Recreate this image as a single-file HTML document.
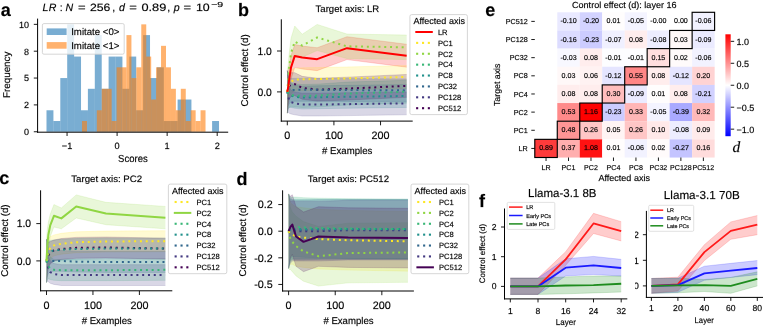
<!DOCTYPE html>
<html><head><meta charset="utf-8"><style>
html,body{margin:0;padding:0;background:#fff;width:763px;height:327px;overflow:hidden;}
text{stroke:#000;stroke-width:0.3px;stroke-opacity:0.5;}
svg{display:block;filter:blur(0.3px);}

</style></head><body>
<svg width="763" height="327" viewBox="0 0 763 327" text-rendering="geometricPrecision" font-family='"Liberation Sans", sans-serif'>
<rect width="763" height="327" fill="#fff"/>
<text x="0.8" y="15.8" font-size="18" font-weight="bold">a</text>
<text x="238" y="15.8" font-size="18" font-weight="bold">b</text>
<text x="-0.7" y="184" font-size="18" font-weight="bold">c</text>
<text x="236.5" y="184.5" font-size="18" font-weight="bold">d</text>
<text x="485.2" y="16" font-size="18" font-weight="bold">e</text>
<text x="479" y="207" font-size="18" font-weight="bold">f</text>
<rect x="46.5" y="110.27" width="6.92" height="21.48" fill="#1f77b4" fill-opacity="0.6"/>
<rect x="53.4" y="121.01" width="6.92" height="10.74" fill="#1f77b4" fill-opacity="0.6"/>
<rect x="60.3" y="78.05" width="6.92" height="53.7" fill="#1f77b4" fill-opacity="0.6"/>
<rect x="67.2" y="24.35" width="6.92" height="107.4" fill="#1f77b4" fill-opacity="0.6"/>
<rect x="74.1" y="56.57" width="6.92" height="75.18" fill="#1f77b4" fill-opacity="0.6"/>
<rect x="81" y="110.27" width="6.92" height="21.48" fill="#1f77b4" fill-opacity="0.6"/>
<rect x="87.9" y="88.79" width="6.92" height="42.96" fill="#1f77b4" fill-opacity="0.6"/>
<rect x="94.8" y="35.09" width="6.92" height="96.66" fill="#1f77b4" fill-opacity="0.6"/>
<rect x="101.7" y="88.79" width="6.92" height="42.96" fill="#1f77b4" fill-opacity="0.6"/>
<rect x="108.6" y="56.57" width="6.92" height="75.18" fill="#1f77b4" fill-opacity="0.6"/>
<rect x="115.5" y="56.57" width="6.92" height="75.18" fill="#1f77b4" fill-opacity="0.6"/>
<rect x="122.4" y="88.79" width="6.92" height="42.96" fill="#1f77b4" fill-opacity="0.6"/>
<rect x="129.3" y="56.57" width="6.92" height="75.18" fill="#1f77b4" fill-opacity="0.6"/>
<rect x="136.2" y="110.27" width="6.92" height="21.48" fill="#1f77b4" fill-opacity="0.6"/>
<rect x="143.1" y="35.09" width="6.92" height="96.66" fill="#1f77b4" fill-opacity="0.6"/>
<rect x="150" y="78.05" width="6.92" height="53.7" fill="#1f77b4" fill-opacity="0.6"/>
<rect x="156.9" y="67.31" width="6.92" height="64.44" fill="#1f77b4" fill-opacity="0.6"/>
<rect x="163.8" y="121.01" width="6.92" height="10.74" fill="#1f77b4" fill-opacity="0.6"/>
<rect x="170.7" y="121.01" width="6.92" height="10.74" fill="#1f77b4" fill-opacity="0.6"/>
<rect x="177.6" y="99.53" width="6.92" height="32.22" fill="#1f77b4" fill-opacity="0.6"/>
<rect x="184.5" y="99.53" width="6.92" height="32.22" fill="#1f77b4" fill-opacity="0.6"/>
<rect x="212.1" y="121.01" width="6.92" height="10.74" fill="#1f77b4" fill-opacity="0.6"/>
<rect x="82" y="121.01" width="4.96" height="10.74" fill="#ff7f0e" fill-opacity="0.6"/>
<rect x="96.82" y="110.27" width="4.96" height="21.48" fill="#ff7f0e" fill-opacity="0.6"/>
<rect x="101.76" y="88.79" width="4.96" height="42.96" fill="#ff7f0e" fill-opacity="0.6"/>
<rect x="106.7" y="88.79" width="4.96" height="42.96" fill="#ff7f0e" fill-opacity="0.6"/>
<rect x="111.64" y="121.01" width="4.96" height="10.74" fill="#ff7f0e" fill-opacity="0.6"/>
<rect x="116.58" y="67.31" width="4.96" height="64.44" fill="#ff7f0e" fill-opacity="0.6"/>
<rect x="121.52" y="67.31" width="4.96" height="64.44" fill="#ff7f0e" fill-opacity="0.6"/>
<rect x="126.46" y="35.09" width="4.96" height="96.66" fill="#ff7f0e" fill-opacity="0.6"/>
<rect x="131.4" y="78.05" width="4.96" height="53.7" fill="#ff7f0e" fill-opacity="0.6"/>
<rect x="136.34" y="67.31" width="4.96" height="64.44" fill="#ff7f0e" fill-opacity="0.6"/>
<rect x="141.28" y="24.35" width="4.96" height="107.4" fill="#ff7f0e" fill-opacity="0.6"/>
<rect x="146.22" y="56.57" width="4.96" height="75.18" fill="#ff7f0e" fill-opacity="0.6"/>
<rect x="151.16" y="99.53" width="4.96" height="32.22" fill="#ff7f0e" fill-opacity="0.6"/>
<rect x="156.1" y="67.31" width="4.96" height="64.44" fill="#ff7f0e" fill-opacity="0.6"/>
<rect x="161.04" y="45.83" width="4.96" height="85.92" fill="#ff7f0e" fill-opacity="0.6"/>
<rect x="165.98" y="67.31" width="4.96" height="64.44" fill="#ff7f0e" fill-opacity="0.6"/>
<rect x="170.92" y="88.79" width="4.96" height="42.96" fill="#ff7f0e" fill-opacity="0.6"/>
<rect x="175.86" y="110.27" width="4.96" height="21.48" fill="#ff7f0e" fill-opacity="0.6"/>
<rect x="180.8" y="88.79" width="4.96" height="42.96" fill="#ff7f0e" fill-opacity="0.6"/>
<rect x="185.74" y="121.01" width="4.96" height="10.74" fill="#ff7f0e" fill-opacity="0.6"/>
<rect x="190.68" y="110.27" width="4.96" height="21.48" fill="#ff7f0e" fill-opacity="0.6"/>
<rect x="195.62" y="121.01" width="4.96" height="10.74" fill="#ff7f0e" fill-opacity="0.6"/>
<rect x="200.56" y="110.27" width="4.96" height="21.48" fill="#ff7f0e" fill-opacity="0.6"/>
<rect x="42.4" y="23.6" width="81.8" height="30.6" rx="1.5" fill="#fff" fill-opacity="0.8" stroke="#cccccc" stroke-width="0.8"/>
<rect x="46.7" y="28.4" width="19.9" height="6.6" fill="#1f77b4" fill-opacity="0.6"/>
<rect x="46.7" y="42.1" width="19.9" height="6.6" fill="#ff7f0e" fill-opacity="0.6"/>
<text x="71.2" y="35" font-size="9.7" textLength="48.2" lengthAdjust="spacingAndGlyphs">Imitate &lt;0&gt;</text>
<text x="71.2" y="48.7" font-size="9.7" textLength="48.2" lengthAdjust="spacingAndGlyphs">Imitate &lt;1&gt;</text>
<line x1="37.6" y1="18.6" x2="37.6" y2="132.7" stroke="#000" stroke-width="1"/>
<line x1="37.1" y1="132.2" x2="228.2" y2="132.2" stroke="#000" stroke-width="1"/>
<line x1="33.8" y1="131.75" x2="37.6" y2="131.75" stroke="#000" stroke-width="0.9"/>
<text x="29" y="135.05" font-size="9" text-anchor="end">0</text>
<line x1="33.8" y1="104.9" x2="37.6" y2="104.9" stroke="#000" stroke-width="0.9"/>
<text x="29" y="108.2" font-size="9" text-anchor="end">2</text>
<line x1="33.8" y1="78.05" x2="37.6" y2="78.05" stroke="#000" stroke-width="0.9"/>
<text x="29" y="81.35" font-size="9" text-anchor="end">5</text>
<line x1="33.8" y1="51.2" x2="37.6" y2="51.2" stroke="#000" stroke-width="0.9"/>
<text x="29" y="54.5" font-size="9" text-anchor="end">8</text>
<line x1="33.8" y1="24.35" x2="37.6" y2="24.35" stroke="#000" stroke-width="0.9"/>
<text x="29" y="27.65" font-size="9" text-anchor="end">10</text>
<line x1="67.05" y1="132.2" x2="67.05" y2="136" stroke="#000" stroke-width="0.9"/>
<text x="67.05" y="148.6" font-size="9.2" text-anchor="middle">−1</text>
<line x1="117.1" y1="132.2" x2="117.1" y2="136" stroke="#000" stroke-width="0.9"/>
<text x="117.1" y="148.6" font-size="9.2" text-anchor="middle">0</text>
<line x1="167.15" y1="132.2" x2="167.15" y2="136" stroke="#000" stroke-width="0.9"/>
<text x="167.15" y="148.6" font-size="9.2" text-anchor="middle">1</text>
<line x1="217.2" y1="132.2" x2="217.2" y2="136" stroke="#000" stroke-width="0.9"/>
<text x="217.2" y="148.6" font-size="9.2" text-anchor="middle">2</text>
<text x="132.9" y="162.4" font-size="10.2" text-anchor="middle" textLength="29.6" lengthAdjust="spacingAndGlyphs">Scores</text>
<text x="9.9" y="74.8" font-size="9.8" text-anchor="middle" textLength="46.4" lengthAdjust="spacingAndGlyphs" transform="rotate(-90 9.9 74.8)">Frequency</text>
<text x="45.45" y="11" font-size="10.6" text-anchor="middle" font-style="italic">L</text>
<text x="52.65" y="11" font-size="10.6" text-anchor="middle" font-style="italic">R</text>
<text x="61.3" y="11" font-size="10.6" text-anchor="middle">:</text>
<text x="69.45" y="11" font-size="10.6" text-anchor="middle" font-style="italic">N</text>
<text x="81.75" y="11" font-size="10.6" text-anchor="middle" textLength="7.6" lengthAdjust="spacingAndGlyphs">=</text>
<text x="100.1" y="11" font-size="10.6" text-anchor="middle" textLength="20.4" lengthAdjust="spacingAndGlyphs">256</text>
<text x="113.7" y="11" font-size="10.6" text-anchor="middle">,</text>
<text x="122.05" y="11" font-size="10.6" text-anchor="middle" font-style="italic">d</text>
<text x="133.05" y="11" font-size="10.6" text-anchor="middle" textLength="7.6" lengthAdjust="spacingAndGlyphs">=</text>
<text x="153.85" y="11" font-size="10.6" text-anchor="middle" textLength="24.8" lengthAdjust="spacingAndGlyphs">0.89</text>
<text x="168.8" y="11" font-size="10.6" text-anchor="middle">,</text>
<text x="176.65" y="11" font-size="10.6" text-anchor="middle" font-style="italic">p</text>
<text x="187.25" y="11" font-size="10.6" text-anchor="middle" textLength="7.6" lengthAdjust="spacingAndGlyphs">=</text>
<text x="202.8" y="11" font-size="10.6" text-anchor="middle" textLength="13.8" lengthAdjust="spacingAndGlyphs">10</text>
<text x="217.2" y="6.9" font-size="7.3" text-anchor="middle" textLength="12" lengthAdjust="spacingAndGlyphs">−9</text>
<clipPath id="cp28119"><rect x="281.3" y="19.3" width="131.4" height="101.8"/></clipPath>
<g clip-path="url(#cp28119)">
<polygon points="287.3,70.63 288.23,71.45 289.16,66.54 291.03,55.5 294.76,44.46 302.22,46.09 317.14,47.73 346.97,36.69 406.65,44.25 406.65,67.16 346.97,59.59 317.14,70.63 302.22,69 294.76,67.36 291.03,79.22 289.16,92.72 288.23,102.53 287.3,113.17" fill="#ff0000" fill-opacity="0.2"/>
<polyline points="287.3,70.63 288.23,71.45 289.16,66.54 291.03,55.5 294.76,44.46 302.22,46.09 317.14,47.73 346.97,36.69 406.65,44.25" fill="none" stroke="#ff0000" stroke-width="0.8" stroke-linejoin="round" stroke-opacity="0.2"/>
<polyline points="287.3,113.17 288.23,102.53 289.16,92.72 291.03,79.22 294.76,67.36 302.22,69 317.14,70.63 346.97,59.59 406.65,67.16" fill="none" stroke="#ff0000" stroke-width="0.8" stroke-linejoin="round" stroke-opacity="0.2"/>
<polygon points="287.3,70.63 288.23,72.27 289.16,71.45 291.03,69.81 294.76,68.18 302.22,67.77 317.14,67.56 346.97,66.95 406.65,65.52 406.65,88.42 346.97,89.86 317.14,90.47 302.22,90.67 294.76,91.08 291.03,93.54 289.16,97.63 288.23,103.35 287.3,113.17" fill="#fde725" fill-opacity="0.2"/>
<polyline points="287.3,70.63 288.23,72.27 289.16,71.45 291.03,69.81 294.76,68.18 302.22,67.77 317.14,67.56 346.97,66.95 406.65,65.52" fill="none" stroke="#fde725" stroke-width="0.8" stroke-linejoin="round" stroke-opacity="0.2"/>
<polyline points="287.3,113.17 288.23,103.35 289.16,97.63 291.03,93.54 294.76,91.08 302.22,90.67 317.14,90.47 346.97,89.86 406.65,88.42" fill="none" stroke="#fde725" stroke-width="0.8" stroke-linejoin="round" stroke-opacity="0.2"/>
<polygon points="287.3,70.63 288.23,64.09 289.16,53.86 291.03,38.32 294.76,26.05 302.22,34.23 317.14,24.42 346.97,34.03 406.65,35.05 406.65,59.59 346.97,58.57 317.14,50.59 302.22,57.14 294.76,57.14 291.03,67.77 289.16,80.86 288.23,95.17 287.3,113.17" fill="#90d643" fill-opacity="0.2"/>
<polyline points="287.3,70.63 288.23,64.09 289.16,53.86 291.03,38.32 294.76,26.05 302.22,34.23 317.14,24.42 346.97,34.03 406.65,35.05" fill="none" stroke="#90d643" stroke-width="0.8" stroke-linejoin="round" stroke-opacity="0.2"/>
<polyline points="287.3,113.17 288.23,95.17 289.16,80.86 291.03,67.77 294.76,57.14 302.22,57.14 317.14,50.59 346.97,58.57 406.65,59.59" fill="none" stroke="#90d643" stroke-width="0.8" stroke-linejoin="round" stroke-opacity="0.2"/>
<polygon points="287.3,70.63 288.23,77.59 289.16,80.86 291.03,82.9 294.76,84.13 302.22,84.54 317.14,84.13 346.97,82.08 406.65,80.24 406.65,103.15 346.97,104.99 317.14,107.03 302.22,107.44 294.76,107.03 291.03,106.62 289.16,107.03 288.23,108.67 287.3,113.17" fill="#39b777" fill-opacity="0.2"/>
<polyline points="287.3,70.63 288.23,77.59 289.16,80.86 291.03,82.9 294.76,84.13 302.22,84.54 317.14,84.13 346.97,82.08 406.65,80.24" fill="none" stroke="#39b777" stroke-width="0.8" stroke-linejoin="round" stroke-opacity="0.2"/>
<polyline points="287.3,113.17 288.23,108.67 289.16,107.03 291.03,106.62 294.76,107.03 302.22,107.44 317.14,107.03 346.97,104.99 406.65,103.15" fill="none" stroke="#39b777" stroke-width="0.8" stroke-linejoin="round" stroke-opacity="0.2"/>
<polygon points="287.3,70.63 288.23,77.59 289.16,81.27 291.03,83.72 294.76,85.36 302.22,86.17 317.14,85.77 346.97,85.36 406.65,84.54 406.65,107.44 346.97,108.26 317.14,108.67 302.22,109.08 294.76,108.26 291.03,107.44 289.16,107.44 288.23,108.67 287.3,113.17" fill="#21918c" fill-opacity="0.2"/>
<polyline points="287.3,70.63 288.23,77.59 289.16,81.27 291.03,83.72 294.76,85.36 302.22,86.17 317.14,85.77 346.97,85.36 406.65,84.54" fill="none" stroke="#21918c" stroke-width="0.8" stroke-linejoin="round" stroke-opacity="0.2"/>
<polyline points="287.3,113.17 288.23,108.67 289.16,107.44 291.03,107.44 294.76,108.26 302.22,109.08 317.14,108.67 346.97,108.26 406.65,107.44" fill="none" stroke="#21918c" stroke-width="0.8" stroke-linejoin="round" stroke-opacity="0.2"/>
<polygon points="287.3,70.63 288.23,75.54 289.16,77.59 291.03,78.4 294.76,78.4 302.22,78.4 317.14,78.4 346.97,78.61 406.65,78.93 406.65,101.84 346.97,101.51 317.14,101.31 302.22,101.31 294.76,101.31 291.03,102.12 289.16,103.76 288.23,106.62 287.3,113.17" fill="#31678d" fill-opacity="0.2"/>
<polyline points="287.3,70.63 288.23,75.54 289.16,77.59 291.03,78.4 294.76,78.4 302.22,78.4 317.14,78.4 346.97,78.61 406.65,78.93" fill="none" stroke="#31678d" stroke-width="0.8" stroke-linejoin="round" stroke-opacity="0.2"/>
<polyline points="287.3,113.17 288.23,106.62 289.16,103.76 291.03,102.12 294.76,101.31 302.22,101.31 317.14,101.31 346.97,101.51 406.65,101.84" fill="none" stroke="#31678d" stroke-width="0.8" stroke-linejoin="round" stroke-opacity="0.2"/>
<polygon points="287.3,70.63 288.23,81.27 289.16,86.99 291.03,90.26 294.76,91.9 302.22,93.13 317.14,93.13 346.97,92.72 406.65,91.9 406.65,114.8 346.97,115.62 317.14,116.03 302.22,116.03 294.76,114.8 291.03,113.99 289.16,113.17 288.23,112.35 287.3,113.17" fill="#433981" fill-opacity="0.2"/>
<polyline points="287.3,70.63 288.23,81.27 289.16,86.99 291.03,90.26 294.76,91.9 302.22,93.13 317.14,93.13 346.97,92.72 406.65,91.9" fill="none" stroke="#433981" stroke-width="0.8" stroke-linejoin="round" stroke-opacity="0.2"/>
<polyline points="287.3,113.17 288.23,112.35 289.16,113.17 291.03,113.99 294.76,114.8 302.22,116.03 317.14,116.03 346.97,115.62 406.65,114.8" fill="none" stroke="#433981" stroke-width="0.8" stroke-linejoin="round" stroke-opacity="0.2"/>
<polygon points="287.3,70.63 288.23,73.09 289.16,73.09 291.03,72.68 294.76,72.68 302.22,76.36 317.14,78.2 346.97,77.18 406.65,74.44 406.65,97.34 346.97,100.08 317.14,101.1 302.22,99.26 294.76,95.58 291.03,96.4 289.16,99.26 288.23,104.17 287.3,113.17" fill="#440154" fill-opacity="0.2"/>
<polyline points="287.3,70.63 288.23,73.09 289.16,73.09 291.03,72.68 294.76,72.68 302.22,76.36 317.14,78.2 346.97,77.18 406.65,74.44" fill="none" stroke="#440154" stroke-width="0.8" stroke-linejoin="round" stroke-opacity="0.2"/>
<polyline points="287.3,113.17 288.23,104.17 289.16,99.26 291.03,96.4 294.76,95.58 302.22,99.26 317.14,101.1 346.97,100.08 406.65,97.34" fill="none" stroke="#440154" stroke-width="0.8" stroke-linejoin="round" stroke-opacity="0.2"/>
<polyline points="287.3,91.9 288.23,88.63 289.16,86.17 291.03,84.54 294.76,84.13 302.22,87.81 317.14,89.65 346.97,88.63 406.65,85.89" fill="none" stroke="#440154" stroke-width="2" stroke-dasharray="2 3.8" stroke-linejoin="round"/>
<polyline points="287.3,91.9 288.23,96.81 289.16,100.08 291.03,102.12 294.76,103.35 302.22,104.58 317.14,104.58 346.97,104.17 406.65,103.35" fill="none" stroke="#433981" stroke-width="2" stroke-dasharray="2 3.8" stroke-linejoin="round"/>
<polyline points="287.3,91.9 288.23,91.08 289.16,90.67 291.03,90.26 294.76,89.86 302.22,89.86 317.14,89.86 346.97,90.06 406.65,90.39" fill="none" stroke="#31678d" stroke-width="2" stroke-dasharray="2 3.8" stroke-linejoin="round"/>
<polyline points="287.3,91.9 288.23,93.13 289.16,94.35 291.03,95.58 294.76,96.81 302.22,97.63 317.14,97.22 346.97,96.81 406.65,95.99" fill="none" stroke="#21918c" stroke-width="2" stroke-dasharray="2 3.8" stroke-linejoin="round"/>
<polyline points="287.3,91.9 288.23,93.13 289.16,93.95 291.03,94.76 294.76,95.58 302.22,95.99 317.14,95.58 346.97,93.54 406.65,91.7" fill="none" stroke="#39b777" stroke-width="2" stroke-dasharray="2 3.8" stroke-linejoin="round"/>
<polyline points="287.3,91.9 288.23,79.63 289.16,67.36 291.03,53.05 294.76,41.59 302.22,45.68 317.14,37.5 346.97,46.3 406.65,47.32" fill="none" stroke="#90d643" stroke-width="2" stroke-dasharray="2 3.8" stroke-linejoin="round"/>
<polyline points="287.3,91.9 288.23,87.81 289.16,84.54 291.03,81.68 294.76,79.63 302.22,79.22 317.14,79.02 346.97,78.4 406.65,76.97" fill="none" stroke="#fde725" stroke-width="2" stroke-dasharray="2 3.8" stroke-linejoin="round"/>
<polyline points="287.3,91.9 288.23,86.99 289.16,79.63 291.03,67.36 294.76,55.91 302.22,57.54 317.14,59.18 346.97,48.14 406.65,55.7" fill="none" stroke="#ff0000" stroke-width="2" stroke-linejoin="round"/>
</g>
<line x1="281.3" y1="19.3" x2="281.3" y2="121.6" stroke="#000" stroke-width="1"/>
<line x1="280.8" y1="121.1" x2="412.7" y2="121.1" stroke="#000" stroke-width="1"/>
<line x1="277" y1="91.9" x2="281.3" y2="91.9" stroke="#000" stroke-width="0.9"/>
<text x="271.8" y="95.7" font-size="10.8" text-anchor="end" textLength="14.4" lengthAdjust="spacingAndGlyphs">0.0</text>
<line x1="277" y1="51" x2="281.3" y2="51" stroke="#000" stroke-width="0.9"/>
<text x="271.8" y="54.8" font-size="10.8" text-anchor="end" textLength="14.4" lengthAdjust="spacingAndGlyphs">1.0</text>
<line x1="287.3" y1="121.1" x2="287.3" y2="125.3" stroke="#000" stroke-width="0.9"/>
<text x="287.3" y="139.2" font-size="10.8" text-anchor="middle">0</text>
<line x1="333.92" y1="121.1" x2="333.92" y2="125.3" stroke="#000" stroke-width="0.9"/>
<text x="333.92" y="139.2" font-size="10.8" text-anchor="middle">100</text>
<line x1="380.54" y1="121.1" x2="380.54" y2="125.3" stroke="#000" stroke-width="0.9"/>
<text x="380.54" y="139.2" font-size="10.8" text-anchor="middle">200</text>
<text x="347.2" y="154" font-size="9.8" text-anchor="middle" textLength="50.2" lengthAdjust="spacingAndGlyphs"># Examples</text>
<text x="248.1" y="70.4" font-size="9.8" text-anchor="middle" textLength="72.2" lengthAdjust="spacingAndGlyphs" transform="rotate(-90 248.1 70.4)">Control effect (d)</text>
<text x="347.4" y="12" font-size="9.5" text-anchor="middle" textLength="63.6" lengthAdjust="spacingAndGlyphs">Target axis: LR</text>
<rect x="409.9" y="14.6" width="57.5" height="100" rx="1.8" fill="#fff" fill-opacity="0.8" stroke="#cccccc" stroke-width="0.8"/>
<text x="413.5" y="23.9" font-size="8.9" textLength="51.4" lengthAdjust="spacingAndGlyphs">Affected axis</text>
<line x1="415.3" y1="32" x2="432.8" y2="32" stroke="#ff0000" stroke-width="2"/>
<text x="437.9" y="34.8" font-size="7.6">LR</text>
<rect x="416.1" y="41.84" width="2.1" height="2.1" fill="#fde725"/>
<rect x="422" y="41.84" width="2.1" height="2.1" fill="#fde725"/>
<rect x="427.8" y="41.84" width="2.1" height="2.1" fill="#fde725"/>
<text x="437.9" y="45.69" font-size="7.6">PC1</text>
<rect x="416.1" y="52.72" width="2.1" height="2.1" fill="#90d643"/>
<rect x="422" y="52.72" width="2.1" height="2.1" fill="#90d643"/>
<rect x="427.8" y="52.72" width="2.1" height="2.1" fill="#90d643"/>
<text x="437.9" y="56.57" font-size="7.6">PC2</text>
<rect x="416.1" y="63.61" width="2.1" height="2.1" fill="#39b777"/>
<rect x="422" y="63.61" width="2.1" height="2.1" fill="#39b777"/>
<rect x="427.8" y="63.61" width="2.1" height="2.1" fill="#39b777"/>
<text x="437.9" y="67.46" font-size="7.6">PC4</text>
<rect x="416.1" y="74.49" width="2.1" height="2.1" fill="#21918c"/>
<rect x="422" y="74.49" width="2.1" height="2.1" fill="#21918c"/>
<rect x="427.8" y="74.49" width="2.1" height="2.1" fill="#21918c"/>
<text x="437.9" y="78.34" font-size="7.6">PC8</text>
<rect x="416.1" y="85.38" width="2.1" height="2.1" fill="#31678d"/>
<rect x="422" y="85.38" width="2.1" height="2.1" fill="#31678d"/>
<rect x="427.8" y="85.38" width="2.1" height="2.1" fill="#31678d"/>
<text x="437.9" y="89.23" font-size="7.6">PC32</text>
<rect x="416.1" y="96.27" width="2.1" height="2.1" fill="#433981"/>
<rect x="422" y="96.27" width="2.1" height="2.1" fill="#433981"/>
<rect x="427.8" y="96.27" width="2.1" height="2.1" fill="#433981"/>
<text x="437.9" y="100.12" font-size="7.6">PC128</text>
<rect x="416.1" y="107.15" width="2.1" height="2.1" fill="#440154"/>
<rect x="422" y="107.15" width="2.1" height="2.1" fill="#440154"/>
<rect x="427.8" y="107.15" width="2.1" height="2.1" fill="#440154"/>
<text x="437.9" y="111" font-size="7.6">PC512</text>
<clipPath id="cp40190"><rect x="40.6" y="190.3" width="131.7" height="100.5"/></clipPath>
<g clip-path="url(#cp40190)">
<polygon points="46.5,239.27 47.43,239.64 48.36,238.89 50.22,236.65 53.93,234.98 61.36,233.3 76.23,231.81 105.96,231.06 165.41,230.69 165.41,251.57 105.96,251.95 76.23,252.69 61.36,254.19 53.93,255.86 50.22,259.03 48.36,264.26 47.43,270.97 46.5,282.53" fill="#fde725" fill-opacity="0.2"/>
<polyline points="46.5,239.27 47.43,239.64 48.36,238.89 50.22,236.65 53.93,234.98 61.36,233.3 76.23,231.81 105.96,231.06 165.41,230.69" fill="none" stroke="#fde725" stroke-width="0.8" stroke-linejoin="round" stroke-opacity="0.2"/>
<polyline points="46.5,282.53 47.43,270.97 48.36,264.26 50.22,259.03 53.93,255.86 61.36,254.19 76.23,252.69 105.96,251.95 165.41,251.57" fill="none" stroke="#fde725" stroke-width="0.8" stroke-linejoin="round" stroke-opacity="0.2"/>
<polygon points="46.5,239.27 47.43,228.45 48.36,222.11 50.22,214.27 53.93,204.58 61.36,207.93 76.23,194.88 105.96,202.34 165.41,206.44 165.41,228.82 105.96,224.72 76.23,218 61.36,228.82 53.93,226.96 50.22,236.65 48.36,247.47 47.43,259.78 46.5,282.53" fill="#90d643" fill-opacity="0.2"/>
<polyline points="46.5,239.27 47.43,228.45 48.36,222.11 50.22,214.27 53.93,204.58 61.36,207.93 76.23,194.88 105.96,202.34 165.41,206.44" fill="none" stroke="#90d643" stroke-width="0.8" stroke-linejoin="round" stroke-opacity="0.2"/>
<polyline points="46.5,282.53 47.43,259.78 48.36,247.47 50.22,236.65 53.93,226.96 61.36,228.82 76.23,218 105.96,224.72 165.41,228.82" fill="none" stroke="#90d643" stroke-width="0.8" stroke-linejoin="round" stroke-opacity="0.2"/>
<polygon points="46.5,239.27 47.43,248.22 48.36,253.44 50.22,257.17 53.93,259.41 61.36,259.78 76.23,259.78 105.96,259.78 165.41,259.41 165.41,280.3 105.96,280.67 76.23,280.67 61.36,280.67 53.93,280.3 50.22,279.55 48.36,278.8 47.43,279.55 46.5,282.53" fill="#39b777" fill-opacity="0.2"/>
<polyline points="46.5,239.27 47.43,248.22 48.36,253.44 50.22,257.17 53.93,259.41 61.36,259.78 76.23,259.78 105.96,259.78 165.41,259.41" fill="none" stroke="#39b777" stroke-width="0.8" stroke-linejoin="round" stroke-opacity="0.2"/>
<polyline points="46.5,282.53 47.43,279.55 48.36,278.8 50.22,279.55 53.93,280.3 61.36,280.67 76.23,280.67 105.96,280.67 165.41,280.3" fill="none" stroke="#39b777" stroke-width="0.8" stroke-linejoin="round" stroke-opacity="0.2"/>
<polygon points="46.5,239.27 47.43,241.5 48.36,241.5 50.22,240.38 53.93,240.01 61.36,239.27 76.23,238.52 105.96,238.15 165.41,238.15 165.41,259.03 105.96,259.03 76.23,259.41 61.36,260.15 53.93,260.9 50.22,262.76 48.36,266.87 47.43,272.84 46.5,282.53" fill="#21918c" fill-opacity="0.2"/>
<polyline points="46.5,239.27 47.43,241.5 48.36,241.5 50.22,240.38 53.93,240.01 61.36,239.27 76.23,238.52 105.96,238.15 165.41,238.15" fill="none" stroke="#21918c" stroke-width="0.8" stroke-linejoin="round" stroke-opacity="0.2"/>
<polyline points="46.5,282.53 47.43,272.84 48.36,266.87 50.22,262.76 53.93,260.9 61.36,260.15 76.23,259.41 105.96,259.03 165.41,259.03" fill="none" stroke="#21918c" stroke-width="0.8" stroke-linejoin="round" stroke-opacity="0.2"/>
<polygon points="46.5,239.27 47.43,245.23 48.36,248.22 50.22,249.71 53.93,250.46 61.36,250.46 76.23,251.2 105.96,251.57 165.41,251.57 165.41,272.46 105.96,272.46 76.23,272.09 61.36,271.34 53.93,271.34 50.22,272.09 48.36,273.58 47.43,276.57 46.5,282.53" fill="#31678d" fill-opacity="0.2"/>
<polyline points="46.5,239.27 47.43,245.23 48.36,248.22 50.22,249.71 53.93,250.46 61.36,250.46 76.23,251.2 105.96,251.57 165.41,251.57" fill="none" stroke="#31678d" stroke-width="0.8" stroke-linejoin="round" stroke-opacity="0.2"/>
<polyline points="46.5,282.53 47.43,276.57 48.36,273.58 50.22,272.09 53.93,271.34 61.36,271.34 76.23,272.09 105.96,272.46 165.41,272.46" fill="none" stroke="#31678d" stroke-width="0.8" stroke-linejoin="round" stroke-opacity="0.2"/>
<polygon points="46.5,239.27 47.43,249.71 48.36,256.42 50.22,260.9 53.93,263.51 61.36,264.63 76.23,264.63 105.96,264.63 165.41,264.63 165.41,285.52 105.96,285.52 76.23,285.52 61.36,285.52 53.93,284.4 50.22,283.28 48.36,281.79 47.43,281.04 46.5,282.53" fill="#433981" fill-opacity="0.2"/>
<polyline points="46.5,239.27 47.43,249.71 48.36,256.42 50.22,260.9 53.93,263.51 61.36,264.63 76.23,264.63 105.96,264.63 165.41,264.63" fill="none" stroke="#433981" stroke-width="0.8" stroke-linejoin="round" stroke-opacity="0.2"/>
<polyline points="46.5,282.53 47.43,281.04 48.36,281.79 50.22,283.28 53.93,284.4 61.36,285.52 76.23,285.52 105.96,285.52 165.41,285.52" fill="none" stroke="#433981" stroke-width="0.8" stroke-linejoin="round" stroke-opacity="0.2"/>
<polygon points="46.5,239.27 47.43,242.25 48.36,242.62 50.22,241.5 53.93,240.01 61.36,238.52 76.23,237.4 105.96,237.03 165.41,238.15 165.41,259.03 105.96,257.92 76.23,258.29 61.36,259.41 53.93,260.9 50.22,263.88 48.36,267.99 47.43,273.58 46.5,282.53" fill="#440154" fill-opacity="0.2"/>
<polyline points="46.5,239.27 47.43,242.25 48.36,242.62 50.22,241.5 53.93,240.01 61.36,238.52 76.23,237.4 105.96,237.03 165.41,238.15" fill="none" stroke="#440154" stroke-width="0.8" stroke-linejoin="round" stroke-opacity="0.2"/>
<polyline points="46.5,282.53 47.43,273.58 48.36,267.99 50.22,263.88 53.93,260.9 61.36,259.41 76.23,258.29 105.96,257.92 165.41,259.03" fill="none" stroke="#440154" stroke-width="0.8" stroke-linejoin="round" stroke-opacity="0.2"/>
<polyline points="46.5,260.9 47.43,257.92 48.36,255.3 50.22,252.69 53.93,250.46 61.36,248.96 76.23,247.84 105.96,247.47 165.41,248.59" fill="none" stroke="#440154" stroke-width="2" stroke-dasharray="2 3.8" stroke-linejoin="round"/>
<polyline points="46.5,260.9 47.43,265.38 48.36,269.11 50.22,272.09 53.93,273.95 61.36,275.07 76.23,275.07 105.96,275.07 165.41,275.07" fill="none" stroke="#433981" stroke-width="2" stroke-dasharray="2 3.8" stroke-linejoin="round"/>
<polyline points="46.5,260.9 47.43,260.9 48.36,260.9 50.22,260.9 53.93,260.9 61.36,260.9 76.23,261.65 105.96,262.02 165.41,262.02" fill="none" stroke="#31678d" stroke-width="2" stroke-dasharray="2 3.8" stroke-linejoin="round"/>
<polyline points="46.5,260.9 47.43,257.17 48.36,254.19 50.22,251.57 53.93,250.46 61.36,249.71 76.23,248.96 105.96,248.59 165.41,248.59" fill="none" stroke="#21918c" stroke-width="2" stroke-dasharray="2 3.8" stroke-linejoin="round"/>
<polyline points="46.5,260.9 47.43,263.88 48.36,266.12 50.22,268.36 53.93,269.85 61.36,270.22 76.23,270.22 105.96,270.22 165.41,269.85" fill="none" stroke="#39b777" stroke-width="2" stroke-dasharray="2 3.8" stroke-linejoin="round"/>
<polyline points="46.5,260.9 47.43,255.3 48.36,251.57 50.22,247.84 53.93,245.42 61.36,243.74 76.23,242.25 105.96,241.5 165.41,241.13" fill="none" stroke="#fde725" stroke-width="2" stroke-dasharray="2 3.8" stroke-linejoin="round"/>
<polyline points="46.5,260.9 47.43,244.11 48.36,234.79 50.22,225.46 53.93,215.77 61.36,218.38 76.23,206.44 105.96,213.53 165.41,217.63" fill="none" stroke="#90d643" stroke-width="2" stroke-linejoin="round"/>
</g>
<line x1="40.6" y1="190.3" x2="40.6" y2="291.3" stroke="#000" stroke-width="1"/>
<line x1="40.1" y1="290.8" x2="172.3" y2="290.8" stroke="#000" stroke-width="1"/>
<line x1="36.3" y1="260.9" x2="40.6" y2="260.9" stroke="#000" stroke-width="0.9"/>
<text x="31.1" y="264.7" font-size="10.8" text-anchor="end" textLength="14.4" lengthAdjust="spacingAndGlyphs">0.0</text>
<line x1="36.3" y1="223.6" x2="40.6" y2="223.6" stroke="#000" stroke-width="0.9"/>
<text x="31.1" y="227.4" font-size="10.8" text-anchor="end" textLength="14.4" lengthAdjust="spacingAndGlyphs">1.0</text>
<line x1="46.5" y1="290.8" x2="46.5" y2="295" stroke="#000" stroke-width="0.9"/>
<text x="46.5" y="309.2" font-size="10.8" text-anchor="middle">0</text>
<line x1="92.95" y1="290.8" x2="92.95" y2="295" stroke="#000" stroke-width="0.9"/>
<text x="92.95" y="309.2" font-size="10.8" text-anchor="middle">100</text>
<line x1="139.4" y1="290.8" x2="139.4" y2="295" stroke="#000" stroke-width="0.9"/>
<text x="139.4" y="309.2" font-size="10.8" text-anchor="middle">200</text>
<text x="106.8" y="323.5" font-size="9.8" text-anchor="middle" textLength="50.2" lengthAdjust="spacingAndGlyphs"># Examples</text>
<text x="7.7" y="240.6" font-size="9.8" text-anchor="middle" textLength="72.4" lengthAdjust="spacingAndGlyphs" transform="rotate(-90 7.7 240.6)">Control effect (d)</text>
<text x="106.7" y="181.5" font-size="9.3" text-anchor="middle" textLength="71" lengthAdjust="spacingAndGlyphs">Target axis: PC2</text>
<rect x="168.4" y="184.1" width="58.4" height="89.6" rx="1.8" fill="#fff" fill-opacity="0.8" stroke="#cccccc" stroke-width="0.8"/>
<text x="172" y="193.9" font-size="8.9" textLength="51.4" lengthAdjust="spacingAndGlyphs">Affected axis</text>
<rect x="174.6" y="200.95" width="2.1" height="2.1" fill="#fde725"/>
<rect x="180.5" y="200.95" width="2.1" height="2.1" fill="#fde725"/>
<rect x="186.3" y="200.95" width="2.1" height="2.1" fill="#fde725"/>
<text x="196.4" y="204.8" font-size="7.6">PC1</text>
<line x1="173.8" y1="212.89" x2="191.3" y2="212.89" stroke="#90d643" stroke-width="2"/>
<text x="196.4" y="215.69" font-size="7.6">PC2</text>
<rect x="174.6" y="222.72" width="2.1" height="2.1" fill="#39b777"/>
<rect x="180.5" y="222.72" width="2.1" height="2.1" fill="#39b777"/>
<rect x="186.3" y="222.72" width="2.1" height="2.1" fill="#39b777"/>
<text x="196.4" y="226.57" font-size="7.6">PC4</text>
<rect x="174.6" y="233.61" width="2.1" height="2.1" fill="#21918c"/>
<rect x="180.5" y="233.61" width="2.1" height="2.1" fill="#21918c"/>
<rect x="186.3" y="233.61" width="2.1" height="2.1" fill="#21918c"/>
<text x="196.4" y="237.46" font-size="7.6">PC8</text>
<rect x="174.6" y="244.49" width="2.1" height="2.1" fill="#31678d"/>
<rect x="180.5" y="244.49" width="2.1" height="2.1" fill="#31678d"/>
<rect x="186.3" y="244.49" width="2.1" height="2.1" fill="#31678d"/>
<text x="196.4" y="248.34" font-size="7.6">PC32</text>
<rect x="174.6" y="255.38" width="2.1" height="2.1" fill="#433981"/>
<rect x="180.5" y="255.38" width="2.1" height="2.1" fill="#433981"/>
<rect x="186.3" y="255.38" width="2.1" height="2.1" fill="#433981"/>
<text x="196.4" y="259.23" font-size="7.6">PC128</text>
<rect x="174.6" y="266.27" width="2.1" height="2.1" fill="#440154"/>
<rect x="180.5" y="266.27" width="2.1" height="2.1" fill="#440154"/>
<rect x="186.3" y="266.27" width="2.1" height="2.1" fill="#440154"/>
<text x="196.4" y="270.12" font-size="7.6">PC512</text>
<clipPath id="cp282190"><rect x="282.6" y="190.3" width="131.3" height="100.7"/></clipPath>
<g clip-path="url(#cp282190)">
<polygon points="288.6,193.92 289.53,199.25 290.46,202.44 292.33,204.57 296.06,206.7 303.52,207.77 318.44,209.37 348.27,210.43 407.95,211.5 407.95,271.14 348.27,270.07 318.44,269.01 303.52,267.41 296.06,266.34 292.33,264.21 290.46,264.21 289.53,265.28 288.6,268.47" fill="#fde725" fill-opacity="0.2"/>
<polyline points="288.6,193.92 289.53,199.25 290.46,202.44 292.33,204.57 296.06,206.7 303.52,207.77 318.44,209.37 348.27,210.43 407.95,211.5" fill="none" stroke="#fde725" stroke-width="0.8" stroke-linejoin="round" stroke-opacity="0.2"/>
<polyline points="288.6,268.47 289.53,265.28 290.46,264.21 292.33,264.21 296.06,266.34 303.52,267.41 318.44,269.01 348.27,270.07 407.95,271.14" fill="none" stroke="#fde725" stroke-width="0.8" stroke-linejoin="round" stroke-opacity="0.2"/>
<polygon points="288.6,193.92 289.53,203.51 290.46,207.77 292.33,212.03 296.06,216.29 303.52,221.61 318.44,226.41 348.27,223.21 407.95,222.68 407.95,282.32 348.27,282.85 318.44,286.05 303.52,281.25 296.06,275.93 292.33,271.67 290.46,269.54 289.53,269.54 288.6,268.47" fill="#90d643" fill-opacity="0.2"/>
<polyline points="288.6,193.92 289.53,203.51 290.46,207.77 292.33,212.03 296.06,216.29 303.52,221.61 318.44,226.41 348.27,223.21 407.95,222.68" fill="none" stroke="#90d643" stroke-width="0.8" stroke-linejoin="round" stroke-opacity="0.2"/>
<polyline points="288.6,268.47 289.53,269.54 290.46,269.54 292.33,271.67 296.06,275.93 303.52,281.25 318.44,286.05 348.27,282.85 407.95,282.32" fill="none" stroke="#90d643" stroke-width="0.8" stroke-linejoin="round" stroke-opacity="0.2"/>
<polygon points="288.6,193.92 289.53,196.05 290.46,197.12 292.33,197.12 296.06,197.12 303.52,197.65 318.44,198.18 348.27,198.72 407.95,199.25 407.95,258.89 348.27,258.36 318.44,257.82 303.52,257.29 296.06,256.76 292.33,256.76 290.46,258.89 289.53,262.08 288.6,268.47" fill="#39b777" fill-opacity="0.2"/>
<polyline points="288.6,193.92 289.53,196.05 290.46,197.12 292.33,197.12 296.06,197.12 303.52,197.65 318.44,198.18 348.27,198.72 407.95,199.25" fill="none" stroke="#39b777" stroke-width="0.8" stroke-linejoin="round" stroke-opacity="0.2"/>
<polyline points="288.6,268.47 289.53,262.08 290.46,258.89 292.33,256.76 296.06,256.76 303.52,257.29 318.44,257.82 348.27,258.36 407.95,258.89" fill="none" stroke="#39b777" stroke-width="0.8" stroke-linejoin="round" stroke-opacity="0.2"/>
<polygon points="288.6,193.92 289.53,197.12 290.46,198.19 292.33,199.25 296.06,199.25 303.52,199.25 318.44,199.25 348.27,199.25 407.95,199.25 407.95,258.89 348.27,258.89 318.44,258.89 303.52,258.89 296.06,258.89 292.33,258.89 290.46,259.95 289.53,263.15 288.6,268.47" fill="#21918c" fill-opacity="0.2"/>
<polyline points="288.6,193.92 289.53,197.12 290.46,198.19 292.33,199.25 296.06,199.25 303.52,199.25 318.44,199.25 348.27,199.25 407.95,199.25" fill="none" stroke="#21918c" stroke-width="0.8" stroke-linejoin="round" stroke-opacity="0.2"/>
<polyline points="288.6,268.47 289.53,263.15 290.46,259.95 292.33,258.89 296.06,258.89 303.52,258.89 318.44,258.89 348.27,258.89 407.95,258.89" fill="none" stroke="#21918c" stroke-width="0.8" stroke-linejoin="round" stroke-opacity="0.2"/>
<polygon points="288.6,193.92 289.53,198.19 290.46,199.25 292.33,200.31 296.06,200.31 303.52,200.31 318.44,199.78 348.27,199.57 407.95,199.57 407.95,259.21 348.27,259.21 318.44,259.42 303.52,259.95 296.06,259.95 292.33,259.95 290.46,261.02 289.53,264.21 288.6,268.47" fill="#31678d" fill-opacity="0.2"/>
<polyline points="288.6,193.92 289.53,198.19 290.46,199.25 292.33,200.31 296.06,200.31 303.52,200.31 318.44,199.78 348.27,199.57 407.95,199.57" fill="none" stroke="#31678d" stroke-width="0.8" stroke-linejoin="round" stroke-opacity="0.2"/>
<polyline points="288.6,268.47 289.53,264.21 290.46,261.02 292.33,259.95 296.06,259.95 303.52,259.95 318.44,259.42 348.27,259.21 407.95,259.21" fill="none" stroke="#31678d" stroke-width="0.8" stroke-linejoin="round" stroke-opacity="0.2"/>
<polygon points="288.6,193.92 289.53,199.25 290.46,201.38 292.33,201.38 296.06,201.38 303.52,201.38 318.44,201.38 348.27,200.31 407.95,200.31 407.95,259.95 348.27,259.95 318.44,261.02 303.52,261.02 296.06,261.02 292.33,261.02 290.46,263.15 289.53,265.28 288.6,268.47" fill="#433981" fill-opacity="0.2"/>
<polyline points="288.6,193.92 289.53,199.25 290.46,201.38 292.33,201.38 296.06,201.38 303.52,201.38 318.44,201.38 348.27,200.31 407.95,200.31" fill="none" stroke="#433981" stroke-width="0.8" stroke-linejoin="round" stroke-opacity="0.2"/>
<polyline points="288.6,268.47 289.53,265.28 290.46,263.15 292.33,261.02 296.06,261.02 303.52,261.02 318.44,261.02 348.27,259.95 407.95,259.95" fill="none" stroke="#433981" stroke-width="0.8" stroke-linejoin="round" stroke-opacity="0.2"/>
<polygon points="288.6,193.92 289.53,196.05 290.46,196.06 292.33,194.78 296.06,206.7 303.52,212.03 318.44,206.7 348.27,207.77 407.95,208.3 407.95,267.94 348.27,267.41 318.44,266.34 303.52,271.67 296.06,266.34 292.33,254.42 290.46,257.82 289.53,262.08 288.6,268.47" fill="#440154" fill-opacity="0.2"/>
<polyline points="288.6,193.92 289.53,196.05 290.46,196.06 292.33,194.78 296.06,206.7 303.52,212.03 318.44,206.7 348.27,207.77 407.95,208.3" fill="none" stroke="#440154" stroke-width="0.8" stroke-linejoin="round" stroke-opacity="0.2"/>
<polyline points="288.6,268.47 289.53,262.08 290.46,257.82 292.33,254.42 296.06,266.34 303.52,271.67 318.44,266.34 348.27,267.41 407.95,267.94" fill="none" stroke="#440154" stroke-width="0.8" stroke-linejoin="round" stroke-opacity="0.2"/>
<polyline points="288.6,231.2 289.53,232.26 290.46,232.26 292.33,231.2 296.06,231.2 303.52,231.2 318.44,231.2 348.27,230.13 407.95,230.13" fill="none" stroke="#433981" stroke-width="2" stroke-dasharray="2 3.8" stroke-linejoin="round"/>
<polyline points="288.6,231.2 289.53,231.2 290.46,230.13 292.33,230.13 296.06,230.13 303.52,230.13 318.44,229.6 348.27,229.39 407.95,229.39" fill="none" stroke="#31678d" stroke-width="2" stroke-dasharray="2 3.8" stroke-linejoin="round"/>
<polyline points="288.6,231.2 289.53,230.13 290.46,229.07 292.33,229.07 296.06,229.07 303.52,229.07 318.44,229.07 348.27,229.07 407.95,229.07" fill="none" stroke="#21918c" stroke-width="2" stroke-dasharray="2 3.8" stroke-linejoin="round"/>
<polyline points="288.6,231.2 289.53,229.07 290.46,228 292.33,226.94 296.06,226.94 303.52,227.47 318.44,228 348.27,228.54 407.95,229.07" fill="none" stroke="#39b777" stroke-width="2" stroke-dasharray="2 3.8" stroke-linejoin="round"/>
<polyline points="288.6,231.2 289.53,236.52 290.46,238.66 292.33,241.85 296.06,246.11 303.52,251.44 318.44,256.23 348.27,253.03 407.95,252.5" fill="none" stroke="#90d643" stroke-width="2" stroke-dasharray="2 3.8" stroke-linejoin="round"/>
<polyline points="288.6,231.2 289.53,232.26 290.46,233.33 292.33,234.39 296.06,236.52 303.52,237.59 318.44,239.19 348.27,240.25 407.95,241.32" fill="none" stroke="#fde725" stroke-width="2" stroke-dasharray="2 3.8" stroke-linejoin="round"/>
<polyline points="288.6,231.2 289.53,229.07 290.46,226.94 292.33,224.6 296.06,236.52 303.52,241.85 318.44,236.52 348.27,237.59 407.95,238.12" fill="none" stroke="#440154" stroke-width="2" stroke-linejoin="round"/>
</g>
<line x1="282.6" y1="190.3" x2="282.6" y2="291.5" stroke="#000" stroke-width="1"/>
<line x1="282.1" y1="291" x2="413.9" y2="291" stroke="#000" stroke-width="1"/>
<line x1="278.3" y1="204.57" x2="282.6" y2="204.57" stroke="#000" stroke-width="0.9"/>
<text x="272.8" y="208.38" font-size="10.8" text-anchor="end">0.2</text>
<line x1="278.3" y1="231.2" x2="282.6" y2="231.2" stroke="#000" stroke-width="0.9"/>
<text x="272.8" y="235" font-size="10.8" text-anchor="end">0.0</text>
<line x1="278.3" y1="257.82" x2="282.6" y2="257.82" stroke="#000" stroke-width="0.9"/>
<text x="272.8" y="261.62" font-size="10.8" text-anchor="end">-0.2</text>
<line x1="278.3" y1="284.45" x2="282.6" y2="284.45" stroke="#000" stroke-width="0.9"/>
<text x="272.8" y="288.25" font-size="10.8" text-anchor="end">-0.5</text>
<line x1="288.6" y1="291" x2="288.6" y2="295.2" stroke="#000" stroke-width="0.9"/>
<text x="288.6" y="309.2" font-size="10.8" text-anchor="middle">0</text>
<line x1="335.22" y1="291" x2="335.22" y2="295.2" stroke="#000" stroke-width="0.9"/>
<text x="335.22" y="309.2" font-size="10.8" text-anchor="middle">100</text>
<line x1="381.84" y1="291" x2="381.84" y2="295.2" stroke="#000" stroke-width="0.9"/>
<text x="381.84" y="309.2" font-size="10.8" text-anchor="middle">200</text>
<text x="348.5" y="323.5" font-size="9.8" text-anchor="middle" textLength="50.2" lengthAdjust="spacingAndGlyphs"># Examples</text>
<text x="245.9" y="240.4" font-size="9.8" text-anchor="middle" textLength="72.2" lengthAdjust="spacingAndGlyphs" transform="rotate(-90 245.9 240.4)">Control effect (d)</text>
<text x="348.4" y="181.5" font-size="9.3" text-anchor="middle" textLength="81.2" lengthAdjust="spacingAndGlyphs">Target axis: PC512</text>
<rect x="411" y="184.1" width="57.8" height="89.6" rx="1.8" fill="#fff" fill-opacity="0.8" stroke="#cccccc" stroke-width="0.8"/>
<text x="414.6" y="193.9" font-size="8.9" textLength="51.4" lengthAdjust="spacingAndGlyphs">Affected axis</text>
<rect x="417.2" y="200.95" width="2.1" height="2.1" fill="#fde725"/>
<rect x="423.1" y="200.95" width="2.1" height="2.1" fill="#fde725"/>
<rect x="428.9" y="200.95" width="2.1" height="2.1" fill="#fde725"/>
<text x="439" y="204.8" font-size="7.6">PC1</text>
<rect x="417.2" y="211.84" width="2.1" height="2.1" fill="#90d643"/>
<rect x="423.1" y="211.84" width="2.1" height="2.1" fill="#90d643"/>
<rect x="428.9" y="211.84" width="2.1" height="2.1" fill="#90d643"/>
<text x="439" y="215.69" font-size="7.6">PC2</text>
<rect x="417.2" y="222.72" width="2.1" height="2.1" fill="#39b777"/>
<rect x="423.1" y="222.72" width="2.1" height="2.1" fill="#39b777"/>
<rect x="428.9" y="222.72" width="2.1" height="2.1" fill="#39b777"/>
<text x="439" y="226.57" font-size="7.6">PC4</text>
<rect x="417.2" y="233.61" width="2.1" height="2.1" fill="#21918c"/>
<rect x="423.1" y="233.61" width="2.1" height="2.1" fill="#21918c"/>
<rect x="428.9" y="233.61" width="2.1" height="2.1" fill="#21918c"/>
<text x="439" y="237.46" font-size="7.6">PC8</text>
<rect x="417.2" y="244.49" width="2.1" height="2.1" fill="#31678d"/>
<rect x="423.1" y="244.49" width="2.1" height="2.1" fill="#31678d"/>
<rect x="428.9" y="244.49" width="2.1" height="2.1" fill="#31678d"/>
<text x="439" y="248.34" font-size="7.6">PC32</text>
<rect x="417.2" y="255.38" width="2.1" height="2.1" fill="#433981"/>
<rect x="423.1" y="255.38" width="2.1" height="2.1" fill="#433981"/>
<rect x="428.9" y="255.38" width="2.1" height="2.1" fill="#433981"/>
<text x="439" y="259.23" font-size="7.6">PC128</text>
<line x1="416.4" y1="267.32" x2="433.9" y2="267.32" stroke="#440154" stroke-width="2"/>
<text x="439" y="270.12" font-size="7.6">PC512</text>
<rect x="557.27" y="12.3" width="22.53" height="18.2" fill="#e9e9ff"/>
<text x="568.51" y="23.38" font-size="7.1" text-anchor="middle">-0.10</text>
<rect x="579.75" y="12.3" width="22.53" height="18.2" fill="#d3d3ff"/>
<text x="590.99" y="23.38" font-size="7.1" text-anchor="middle">-0.20</text>
<rect x="602.22" y="12.3" width="22.53" height="18.2" fill="#fffdfd"/>
<text x="613.46" y="23.38" font-size="7.1" text-anchor="middle">0.01</text>
<rect x="624.7" y="12.3" width="22.53" height="18.2" fill="#f4f4ff"/>
<text x="635.94" y="23.38" font-size="7.1" text-anchor="middle">-0.05</text>
<rect x="647.17" y="12.3" width="22.53" height="18.2" fill="#ffffff"/>
<text x="658.41" y="23.38" font-size="7.1" text-anchor="middle">-0.00</text>
<rect x="669.65" y="12.3" width="22.53" height="18.2" fill="#ffffff"/>
<text x="680.89" y="23.38" font-size="7.1" text-anchor="middle">0.00</text>
<rect x="692.12" y="12.3" width="22.53" height="18.2" fill="#f2f2ff"/>
<text x="703.36" y="23.38" font-size="7.1" text-anchor="middle">-0.06</text>
<rect x="557.27" y="30.45" width="22.53" height="18.2" fill="#dcdcff"/>
<text x="568.51" y="41.52" font-size="7.1" text-anchor="middle">-0.16</text>
<rect x="579.75" y="30.45" width="22.53" height="18.2" fill="#ccccff"/>
<text x="590.99" y="41.52" font-size="7.1" text-anchor="middle">-0.23</text>
<rect x="602.22" y="30.45" width="22.53" height="18.2" fill="#f0f0ff"/>
<text x="613.46" y="41.52" font-size="7.1" text-anchor="middle">-0.07</text>
<rect x="624.7" y="30.45" width="22.53" height="18.2" fill="#ffeded"/>
<text x="635.94" y="41.52" font-size="7.1" text-anchor="middle">0.08</text>
<rect x="647.17" y="30.45" width="22.53" height="18.2" fill="#ededff"/>
<text x="658.41" y="41.52" font-size="7.1" text-anchor="middle">-0.08</text>
<rect x="669.65" y="30.45" width="22.53" height="18.2" fill="#fff8f8"/>
<text x="680.89" y="41.52" font-size="7.1" text-anchor="middle">0.03</text>
<rect x="692.12" y="30.45" width="22.53" height="18.2" fill="#ebebff"/>
<text x="703.36" y="41.52" font-size="7.1" text-anchor="middle">-0.09</text>
<rect x="557.27" y="48.6" width="22.53" height="18.2" fill="#f8f8ff"/>
<text x="568.51" y="59.67" font-size="7.1" text-anchor="middle">-0.03</text>
<rect x="579.75" y="48.6" width="22.53" height="18.2" fill="#ffeded"/>
<text x="590.99" y="59.67" font-size="7.1" text-anchor="middle">0.08</text>
<rect x="602.22" y="48.6" width="22.53" height="18.2" fill="#fdfdff"/>
<text x="613.46" y="59.67" font-size="7.1" text-anchor="middle">-0.01</text>
<rect x="624.7" y="48.6" width="22.53" height="18.2" fill="#fdfdff"/>
<text x="635.94" y="59.67" font-size="7.1" text-anchor="middle">-0.01</text>
<rect x="647.17" y="48.6" width="22.53" height="18.2" fill="#ffdede"/>
<text x="658.41" y="59.67" font-size="7.1" text-anchor="middle">0.15</text>
<rect x="669.65" y="48.6" width="22.53" height="18.2" fill="#fffbfb"/>
<text x="680.89" y="59.67" font-size="7.1" text-anchor="middle">0.02</text>
<rect x="692.12" y="48.6" width="22.53" height="18.2" fill="#f2f2ff"/>
<text x="703.36" y="59.67" font-size="7.1" text-anchor="middle">-0.06</text>
<rect x="557.27" y="66.75" width="22.53" height="18.2" fill="#fff8f8"/>
<text x="568.51" y="77.83" font-size="7.1" text-anchor="middle">0.03</text>
<rect x="579.75" y="66.75" width="22.53" height="18.2" fill="#fff2f2"/>
<text x="590.99" y="77.83" font-size="7.1" text-anchor="middle">0.06</text>
<rect x="602.22" y="66.75" width="22.53" height="18.2" fill="#e5e5ff"/>
<text x="613.46" y="77.83" font-size="7.1" text-anchor="middle">-0.12</text>
<rect x="624.7" y="66.75" width="22.53" height="18.2" fill="#ff8686"/>
<text x="635.94" y="77.83" font-size="7.1" text-anchor="middle">0.55</text>
<rect x="647.17" y="66.75" width="22.53" height="18.2" fill="#ffeded"/>
<text x="658.41" y="77.83" font-size="7.1" text-anchor="middle">0.08</text>
<rect x="669.65" y="66.75" width="22.53" height="18.2" fill="#e5e5ff"/>
<text x="680.89" y="77.83" font-size="7.1" text-anchor="middle">-0.12</text>
<rect x="692.12" y="66.75" width="22.53" height="18.2" fill="#ffd3d3"/>
<text x="703.36" y="77.83" font-size="7.1" text-anchor="middle">0.20</text>
<rect x="557.27" y="84.9" width="22.53" height="18.2" fill="#ffeded"/>
<text x="568.51" y="95.97" font-size="7.1" text-anchor="middle">0.08</text>
<rect x="579.75" y="84.9" width="22.53" height="18.2" fill="#ffeded"/>
<text x="590.99" y="95.97" font-size="7.1" text-anchor="middle">0.08</text>
<rect x="602.22" y="84.9" width="22.53" height="18.2" fill="#ffbdbd"/>
<text x="613.46" y="95.97" font-size="7.1" text-anchor="middle">0.30</text>
<rect x="624.7" y="84.9" width="22.53" height="18.2" fill="#ebebff"/>
<text x="635.94" y="95.97" font-size="7.1" text-anchor="middle">-0.09</text>
<rect x="647.17" y="84.9" width="22.53" height="18.2" fill="#fffdfd"/>
<text x="658.41" y="95.97" font-size="7.1" text-anchor="middle">0.01</text>
<rect x="669.65" y="84.9" width="22.53" height="18.2" fill="#ffeded"/>
<text x="680.89" y="95.97" font-size="7.1" text-anchor="middle">0.08</text>
<rect x="692.12" y="84.9" width="22.53" height="18.2" fill="#d1d1ff"/>
<text x="703.36" y="95.97" font-size="7.1" text-anchor="middle">-0.21</text>
<rect x="557.27" y="103.05" width="22.53" height="18.2" fill="#ff8a8a"/>
<text x="568.51" y="114.12" font-size="7.1" text-anchor="middle">0.53</text>
<rect x="579.75" y="103.05" width="22.53" height="18.2" fill="#ff0000"/>
<text x="590.99" y="114.12" font-size="7.1" text-anchor="middle">1.16</text>
<rect x="602.22" y="103.05" width="22.53" height="18.2" fill="#ccccff"/>
<text x="613.46" y="114.12" font-size="7.1" text-anchor="middle">-0.23</text>
<rect x="624.7" y="103.05" width="22.53" height="18.2" fill="#ffb6b6"/>
<text x="635.94" y="114.12" font-size="7.1" text-anchor="middle">0.33</text>
<rect x="647.17" y="103.05" width="22.53" height="18.2" fill="#f4f4ff"/>
<text x="658.41" y="114.12" font-size="7.1" text-anchor="middle">-0.05</text>
<rect x="669.65" y="103.05" width="22.53" height="18.2" fill="#a9a9ff"/>
<text x="680.89" y="114.12" font-size="7.1" text-anchor="middle">-0.39</text>
<rect x="692.12" y="103.05" width="22.53" height="18.2" fill="#ffb9b9"/>
<text x="703.36" y="114.12" font-size="7.1" text-anchor="middle">0.32</text>
<rect x="557.27" y="121.2" width="22.53" height="18.2" fill="#ff9595"/>
<text x="568.51" y="132.27" font-size="7.1" text-anchor="middle">0.48</text>
<rect x="579.75" y="121.2" width="22.53" height="18.2" fill="#ffc6c6"/>
<text x="590.99" y="132.27" font-size="7.1" text-anchor="middle">0.26</text>
<rect x="602.22" y="121.2" width="22.53" height="18.2" fill="#fff4f4"/>
<text x="613.46" y="132.27" font-size="7.1" text-anchor="middle">0.05</text>
<rect x="624.7" y="121.2" width="22.53" height="18.2" fill="#ffc6c6"/>
<text x="635.94" y="132.27" font-size="7.1" text-anchor="middle">0.26</text>
<rect x="647.17" y="121.2" width="22.53" height="18.2" fill="#ffe9e9"/>
<text x="658.41" y="132.27" font-size="7.1" text-anchor="middle">0.10</text>
<rect x="669.65" y="121.2" width="22.53" height="18.2" fill="#ededff"/>
<text x="680.89" y="132.27" font-size="7.1" text-anchor="middle">-0.08</text>
<rect x="692.12" y="121.2" width="22.53" height="18.2" fill="#ffebeb"/>
<text x="703.36" y="132.27" font-size="7.1" text-anchor="middle">0.09</text>
<rect x="534.8" y="139.35" width="22.53" height="18.2" fill="#ff3b3b"/>
<text x="546.04" y="150.42" font-size="7.1" text-anchor="middle">0.89</text>
<rect x="557.27" y="139.35" width="22.53" height="18.2" fill="#ffaeae"/>
<text x="568.51" y="150.42" font-size="7.1" text-anchor="middle">0.37</text>
<rect x="579.75" y="139.35" width="22.53" height="18.2" fill="#ff1212"/>
<text x="590.99" y="150.42" font-size="7.1" text-anchor="middle">1.08</text>
<rect x="602.22" y="139.35" width="22.53" height="18.2" fill="#fffdfd"/>
<text x="613.46" y="150.42" font-size="7.1" text-anchor="middle">0.01</text>
<rect x="624.7" y="139.35" width="22.53" height="18.2" fill="#f2f2ff"/>
<text x="635.94" y="150.42" font-size="7.1" text-anchor="middle">-0.06</text>
<rect x="647.17" y="139.35" width="22.53" height="18.2" fill="#fffbfb"/>
<text x="658.41" y="150.42" font-size="7.1" text-anchor="middle">0.02</text>
<rect x="669.65" y="139.35" width="22.53" height="18.2" fill="#c4c4ff"/>
<text x="680.89" y="150.42" font-size="7.1" text-anchor="middle">-0.27</text>
<rect x="692.12" y="139.35" width="22.53" height="18.2" fill="#ffdcdc"/>
<text x="703.36" y="150.42" font-size="7.1" text-anchor="middle">0.16</text>
<rect x="534.8" y="139.35" width="22.48" height="18.15" fill="none" stroke="#000" stroke-width="1.15"/>
<rect x="557.27" y="121.2" width="22.48" height="18.15" fill="none" stroke="#000" stroke-width="1.15"/>
<rect x="579.75" y="103.05" width="22.48" height="18.15" fill="none" stroke="#000" stroke-width="1.15"/>
<rect x="602.22" y="84.9" width="22.48" height="18.15" fill="none" stroke="#000" stroke-width="1.15"/>
<rect x="624.7" y="66.75" width="22.48" height="18.15" fill="none" stroke="#000" stroke-width="1.15"/>
<rect x="647.17" y="48.6" width="22.48" height="18.15" fill="none" stroke="#000" stroke-width="1.15"/>
<rect x="669.65" y="30.45" width="22.48" height="18.15" fill="none" stroke="#000" stroke-width="1.15"/>
<rect x="692.12" y="12.3" width="22.48" height="18.15" fill="none" stroke="#000" stroke-width="1.15"/>
<line x1="531.3" y1="21.38" x2="534.8" y2="21.38" stroke="#000" stroke-width="0.9"/>
<text x="527.8" y="23.98" font-size="7.2" text-anchor="end">PC512</text>
<line x1="531.3" y1="39.52" x2="534.8" y2="39.52" stroke="#000" stroke-width="0.9"/>
<text x="527.8" y="42.12" font-size="7.2" text-anchor="end">PC128</text>
<line x1="531.3" y1="57.67" x2="534.8" y2="57.67" stroke="#000" stroke-width="0.9"/>
<text x="527.8" y="60.27" font-size="7.2" text-anchor="end">PC32</text>
<line x1="531.3" y1="75.82" x2="534.8" y2="75.82" stroke="#000" stroke-width="0.9"/>
<text x="527.8" y="78.42" font-size="7.2" text-anchor="end">PC8</text>
<line x1="531.3" y1="93.97" x2="534.8" y2="93.97" stroke="#000" stroke-width="0.9"/>
<text x="527.8" y="96.57" font-size="7.2" text-anchor="end">PC4</text>
<line x1="531.3" y1="112.12" x2="534.8" y2="112.12" stroke="#000" stroke-width="0.9"/>
<text x="527.8" y="114.72" font-size="7.2" text-anchor="end">PC2</text>
<line x1="531.3" y1="130.28" x2="534.8" y2="130.28" stroke="#000" stroke-width="0.9"/>
<text x="527.8" y="132.88" font-size="7.2" text-anchor="end">PC1</text>
<line x1="531.3" y1="148.43" x2="534.8" y2="148.43" stroke="#000" stroke-width="0.9"/>
<text x="527.8" y="151.03" font-size="7.2" text-anchor="end">LR</text>
<line x1="546.04" y1="157.5" x2="546.04" y2="161" stroke="#000" stroke-width="0.9"/>
<text x="546.04" y="170" font-size="7.1" text-anchor="middle">LR</text>
<line x1="568.51" y1="157.5" x2="568.51" y2="161" stroke="#000" stroke-width="0.9"/>
<text x="568.51" y="170" font-size="7.1" text-anchor="middle">PC1</text>
<line x1="590.99" y1="157.5" x2="590.99" y2="161" stroke="#000" stroke-width="0.9"/>
<text x="590.99" y="170" font-size="7.1" text-anchor="middle">PC2</text>
<line x1="613.46" y1="157.5" x2="613.46" y2="161" stroke="#000" stroke-width="0.9"/>
<text x="613.46" y="170" font-size="7.1" text-anchor="middle">PC4</text>
<line x1="635.94" y1="157.5" x2="635.94" y2="161" stroke="#000" stroke-width="0.9"/>
<text x="635.94" y="170" font-size="7.1" text-anchor="middle">PC8</text>
<line x1="658.41" y1="157.5" x2="658.41" y2="161" stroke="#000" stroke-width="0.9"/>
<text x="658.41" y="170" font-size="7.1" text-anchor="middle">PC32</text>
<line x1="680.89" y1="157.5" x2="680.89" y2="161" stroke="#000" stroke-width="0.9"/>
<text x="680.89" y="170" font-size="7.1" text-anchor="middle">PC128</text>
<line x1="703.36" y1="157.5" x2="703.36" y2="161" stroke="#000" stroke-width="0.9"/>
<text x="703.36" y="170" font-size="7.1" text-anchor="middle">PC512</text>
<text x="624.2" y="180.6" font-size="8.9" text-anchor="middle" textLength="51.4" lengthAdjust="spacingAndGlyphs">Affected axis</text>
<text x="500.4" y="84.8" font-size="8.7" text-anchor="middle" textLength="42.6" lengthAdjust="spacingAndGlyphs" transform="rotate(-90 500.4 84.8)">Target axis</text>
<text x="624.3" y="7.6" font-size="8.9" text-anchor="middle" textLength="104.6" lengthAdjust="spacingAndGlyphs">Control effect (d): layer 16</text>
<linearGradient id="cbg" x1="0" y1="0" x2="0" y2="1"><stop offset="0" stop-color="#ff0000"/><stop offset="0.5" stop-color="#ffffff"/><stop offset="1" stop-color="#0000ff"/></linearGradient>
<rect x="725.4" y="34.3" width="5.3" height="101.9" fill="url(#cbg)"/>
<line x1="730.7" y1="41.33" x2="734.2" y2="41.33" stroke="#000" stroke-width="0.9"/>
<text x="736.4" y="44.73" font-size="9">1.0</text>
<line x1="730.7" y1="63.29" x2="734.2" y2="63.29" stroke="#000" stroke-width="0.9"/>
<text x="736.4" y="66.69" font-size="9">0.5</text>
<line x1="730.7" y1="85.25" x2="734.2" y2="85.25" stroke="#000" stroke-width="0.9"/>
<text x="736.4" y="88.65" font-size="9">0.0</text>
<line x1="730.7" y1="107.21" x2="734.2" y2="107.21" stroke="#000" stroke-width="0.9"/>
<text x="736.4" y="110.61" font-size="9">−0.5</text>
<line x1="730.7" y1="129.17" x2="734.2" y2="129.17" stroke="#000" stroke-width="0.9"/>
<text x="736.4" y="132.57" font-size="9">−1.0</text>
<text x="732.6" y="152" font-size="15.5" font-style="italic" font-family='"Liberation Serif", serif'>d</text>
<polygon points="510.3,278.08 538,278.08 565.7,251.65 593.5,213.34 621.2,221.65 621.2,240.96 593.5,233.53 565.7,265.31 538,294.42 510.3,294.42" fill="#ff0000" fill-opacity="0.2"/>
<polyline points="510.3,278.08 538,278.08 565.7,251.65 593.5,213.34 621.2,221.65" fill="none" stroke="#ff0000" stroke-width="0.8" stroke-linejoin="round" stroke-opacity="0.2"/>
<polyline points="510.3,294.42 538,294.42 565.7,265.31 593.5,233.53 621.2,240.96" fill="none" stroke="#ff0000" stroke-width="0.8" stroke-linejoin="round" stroke-opacity="0.2"/>
<polygon points="510.3,278.08 538,278.08 565.7,258.78 593.5,256.4 621.2,259.37 621.2,276 593.5,274.52 565.7,276 538,294.42 510.3,294.42" fill="#0000ff" fill-opacity="0.2"/>
<polyline points="510.3,278.08 538,278.08 565.7,258.78 593.5,256.4 621.2,259.37" fill="none" stroke="#0000ff" stroke-width="0.8" stroke-linejoin="round" stroke-opacity="0.2"/>
<polyline points="510.3,294.42 538,294.42 565.7,276 593.5,274.52 621.2,276" fill="none" stroke="#0000ff" stroke-width="0.8" stroke-linejoin="round" stroke-opacity="0.2"/>
<polygon points="510.3,278.08 538,278.08 565.7,276.9 593.5,276 621.2,276 621.2,292.04 593.5,292.93 565.7,293.82 538,294.42 510.3,294.42" fill="#008000" fill-opacity="0.2"/>
<polyline points="510.3,278.08 538,278.08 565.7,276.9 593.5,276 621.2,276" fill="none" stroke="#008000" stroke-width="0.8" stroke-linejoin="round" stroke-opacity="0.2"/>
<polyline points="510.3,294.42 538,294.42 565.7,293.82 593.5,292.93 621.2,292.04" fill="none" stroke="#008000" stroke-width="0.8" stroke-linejoin="round" stroke-opacity="0.2"/>
<polyline points="510.3,286.4 538,286.4 565.7,259.37 593.5,223.44 621.2,231.16" fill="none" stroke="#ff1a1a" stroke-width="1.8" stroke-linejoin="round"/>
<polyline points="510.3,286.4 538,286.4 565.7,267.69 593.5,265.31 621.2,267.99" fill="none" stroke="#1a1aff" stroke-width="1.8" stroke-linejoin="round"/>
<polyline points="510.3,286.4 538,286.4 565.7,285.51 593.5,285.21 621.2,283.73" fill="none" stroke="#1e8c1e" stroke-width="1.8" stroke-linejoin="round"/>
<line x1="504.5" y1="208.5" x2="504.5" y2="299.4" stroke="#000" stroke-width="1"/>
<line x1="504" y1="298.9" x2="627.3" y2="298.9" stroke="#000" stroke-width="1"/>
<line x1="510.3" y1="298.9" x2="510.3" y2="302.4" stroke="#000" stroke-width="0.9"/>
<line x1="538" y1="298.9" x2="538" y2="302.4" stroke="#000" stroke-width="0.9"/>
<line x1="565.7" y1="298.9" x2="565.7" y2="302.4" stroke="#000" stroke-width="0.9"/>
<line x1="593.5" y1="298.9" x2="593.5" y2="302.4" stroke="#000" stroke-width="0.9"/>
<line x1="621.2" y1="298.9" x2="621.2" y2="302.4" stroke="#000" stroke-width="0.9"/>
<text x="510.3" y="313.6" font-size="8.6" text-anchor="middle">1</text>
<text x="538" y="313.6" font-size="8.6" text-anchor="middle">8</text>
<text x="565.7" y="313.6" font-size="8.6" text-anchor="middle">16</text>
<text x="593.5" y="313.6" font-size="8.6" text-anchor="middle">24</text>
<text x="621.2" y="313.6" font-size="8.6" text-anchor="middle">32</text>
<line x1="501" y1="286.4" x2="504.5" y2="286.4" stroke="#000" stroke-width="0.9"/>
<text x="496.6" y="289.4" font-size="8.6" text-anchor="end">0</text>
<line x1="501" y1="256.7" x2="504.5" y2="256.7" stroke="#000" stroke-width="0.9"/>
<text x="496.6" y="259.7" font-size="8.6" text-anchor="end">1</text>
<line x1="501" y1="227" x2="504.5" y2="227" stroke="#000" stroke-width="0.9"/>
<text x="496.6" y="230" font-size="8.6" text-anchor="end">2</text>
<text x="565.8" y="325.2" font-size="8.4" text-anchor="middle" textLength="20" lengthAdjust="spacingAndGlyphs">Layer</text>
<text x="485.2" y="253.6" font-size="8" text-anchor="middle" textLength="59.4" lengthAdjust="spacingAndGlyphs" transform="rotate(-90 485.2 253.6)">Control effect (d)</text>
<text x="562.3" y="196.8" font-size="11.6" text-anchor="middle" textLength="68.4" lengthAdjust="spacingAndGlyphs">Llama-3.1 8B</text>
<rect x="507.2" y="202.4" width="47.6" height="27.0" rx="1.2" fill="#fff" fill-opacity="0.8" stroke="#cccccc" stroke-width="0.6"/>
<line x1="509" y1="207.1" x2="522.6" y2="207.1" stroke="#ff1a1a" stroke-width="1.5"/>
<text x="526.2" y="209.2" font-size="5.6">LR</text>
<line x1="509" y1="215.5" x2="522.6" y2="215.5" stroke="#1a1aff" stroke-width="1.5"/>
<text x="526.2" y="217.6" font-size="5.6">Early PCs</text>
<line x1="509" y1="223.9" x2="522.6" y2="223.9" stroke="#1e8c1e" stroke-width="1.5"/>
<text x="526.2" y="226" font-size="5.6">Late PCs</text>
<polygon points="651.4,278.48 677.9,277.2 704.4,244.68 730.8,221.9 757.3,215.5 757.3,234.7 730.8,239.31 704.4,260.56 677.9,291.02 651.4,293.32" fill="#ff0000" fill-opacity="0.2"/>
<polyline points="651.4,278.48 677.9,277.2 704.4,244.68 730.8,221.9 757.3,215.5" fill="none" stroke="#ff0000" stroke-width="0.8" stroke-linejoin="round" stroke-opacity="0.2"/>
<polyline points="651.4,293.32 677.9,291.02 704.4,260.56 730.8,239.31 757.3,234.7" fill="none" stroke="#ff0000" stroke-width="0.8" stroke-linejoin="round" stroke-opacity="0.2"/>
<polygon points="651.4,278.48 677.9,278.22 704.4,266.19 730.8,263.37 757.3,260.56 757.3,274.64 730.8,277.45 704.4,280.27 677.9,292.3 651.4,293.32" fill="#0000ff" fill-opacity="0.2"/>
<polyline points="651.4,278.48 677.9,278.22 704.4,266.19 730.8,263.37 757.3,260.56" fill="none" stroke="#0000ff" stroke-width="0.8" stroke-linejoin="round" stroke-opacity="0.2"/>
<polyline points="651.4,293.32 677.9,292.3 704.4,280.27 730.8,277.45 757.3,274.64" fill="none" stroke="#0000ff" stroke-width="0.8" stroke-linejoin="round" stroke-opacity="0.2"/>
<polygon points="651.4,278.48 677.9,278.22 704.4,279.5 730.8,277.45 757.3,271.82 757.3,285.9 730.8,293.32 704.4,291.53 677.9,292.81 651.4,293.32" fill="#008000" fill-opacity="0.2"/>
<polyline points="651.4,278.48 677.9,278.22 704.4,279.5 730.8,277.45 757.3,271.82" fill="none" stroke="#008000" stroke-width="0.8" stroke-linejoin="round" stroke-opacity="0.2"/>
<polyline points="651.4,293.32 677.9,292.81 704.4,291.53 730.8,293.32 757.3,285.9" fill="none" stroke="#008000" stroke-width="0.8" stroke-linejoin="round" stroke-opacity="0.2"/>
<polyline points="651.4,285.9 677.9,284.36 704.4,252.11 730.8,230.86 757.3,224.72" fill="none" stroke="#ff1a1a" stroke-width="1.8" stroke-linejoin="round"/>
<polyline points="651.4,285.9 677.9,285.13 704.4,273.36 730.8,270.54 757.3,267.98" fill="none" stroke="#1a1aff" stroke-width="1.8" stroke-linejoin="round"/>
<polyline points="651.4,285.9 677.9,285.39 704.4,285.13 730.8,285.9 757.3,278.99" fill="none" stroke="#1e8c1e" stroke-width="1.8" stroke-linejoin="round"/>
<line x1="646.4" y1="210.9" x2="646.4" y2="297.9" stroke="#000" stroke-width="1"/>
<line x1="645.9" y1="297.4" x2="763.5" y2="297.4" stroke="#000" stroke-width="1"/>
<line x1="651.4" y1="297.4" x2="651.4" y2="300.9" stroke="#000" stroke-width="0.9"/>
<line x1="677.9" y1="297.4" x2="677.9" y2="300.9" stroke="#000" stroke-width="0.9"/>
<line x1="704.4" y1="297.4" x2="704.4" y2="300.9" stroke="#000" stroke-width="0.9"/>
<line x1="730.8" y1="297.4" x2="730.8" y2="300.9" stroke="#000" stroke-width="0.9"/>
<line x1="757.3" y1="297.4" x2="757.3" y2="300.9" stroke="#000" stroke-width="0.9"/>
<text x="651.4" y="310.8" font-size="8.6" text-anchor="middle">1</text>
<text x="677.9" y="310.8" font-size="8.6" text-anchor="middle">20</text>
<text x="704.4" y="310.8" font-size="8.6" text-anchor="middle">40</text>
<text x="730.8" y="310.8" font-size="8.6" text-anchor="middle">60</text>
<text x="757.3" y="310.8" font-size="8.6" text-anchor="middle">80</text>
<clipPath id="cpr"><rect x="635.0" y="200" width="20" height="100"/></clipPath>
<g clip-path="url(#cpr)">
<text x="638.8" y="289.2" font-size="9.2" text-anchor="end">0</text>
<text x="638.8" y="263.6" font-size="9.2" text-anchor="end">1</text>
<text x="638.8" y="238" font-size="9.2" text-anchor="end">2</text>
</g>
<line x1="642.9" y1="285.9" x2="646.4" y2="285.9" stroke="#000" stroke-width="0.9"/>
<line x1="642.9" y1="260.3" x2="646.4" y2="260.3" stroke="#000" stroke-width="0.9"/>
<line x1="642.9" y1="234.7" x2="646.4" y2="234.7" stroke="#000" stroke-width="0.9"/>
<text x="704.2" y="322.6" font-size="8.2" text-anchor="middle" textLength="19.2" lengthAdjust="spacingAndGlyphs">Layer</text>
<text x="701.8" y="198.5" font-size="11.6" text-anchor="middle" textLength="76" lengthAdjust="spacingAndGlyphs">Llama-3.1 70B</text>
<rect x="648.7" y="205.3" width="45.0" height="26.0" rx="1.2" fill="#fff" fill-opacity="0.8" stroke="#cccccc" stroke-width="0.6"/>
<line x1="650.3" y1="210.2" x2="663.2" y2="210.2" stroke="#ff1a1a" stroke-width="1.5"/>
<text x="666.9" y="212.2" font-size="5.4">LR</text>
<line x1="650.3" y1="218" x2="663.2" y2="218" stroke="#1a1aff" stroke-width="1.5"/>
<text x="666.9" y="220" font-size="5.4">Early PCs</text>
<line x1="650.3" y1="225.8" x2="663.2" y2="225.8" stroke="#1e8c1e" stroke-width="1.5"/>
<text x="666.9" y="227.8" font-size="5.4">Late PCs</text>
</svg>
</body></html>
